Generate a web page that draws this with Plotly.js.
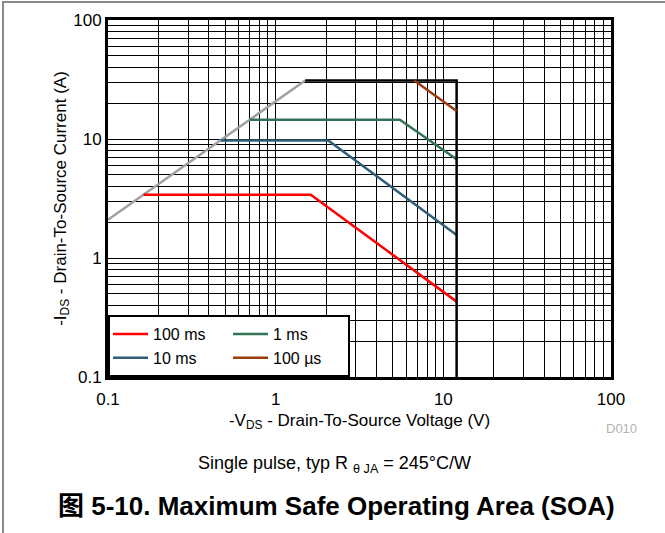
<!DOCTYPE html>
<html>
<head>
<meta charset="utf-8">
<script src="https://cdn.plot.ly/plotly-3.0.1.min.js"></script>
<style>
  html, body { margin: 0; padding: 0; background: #fff; }
  #wrap { position: relative; width: 665px; height: 533px; }
  #chart { position: absolute; left: 0; top: 0; width: 665px; height: 533px; }
  #frame { position: absolute; left: 2px; top: 1px; right: 0; bottom: 0;
           border-left: 2px solid #8a8a8a; border-top: 2px solid #8a8a8a; pointer-events: none; }
</style>
</head>
<body>
<div id="wrap"><div id="chart"></div><div id="frame"></div></div>
<script>
// ---- data ----
const seriesNames = ['100 ms', '10 ms', '1 ms', '100 µs'];
const seriesColors = ['#ff0000', '#2f5f78', '#327356', '#9c3b0d'];

const v100ms = [0.163, 1.62, 12];
const i100ms = [3.4, 3.4, 0.43];

const v10ms = [0.47, 2.06, 12];
const i10ms = [9.7, 9.7, 1.56];

const v1ms = [0.70, 5.5, 12];
const i1ms = [14.5, 14.5, 6.75];

const v100us = [6.7, 12];
const i100us = [31, 17.2];

// RDS(on) limit (grey) and package/voltage limit (black)
const vRds = [0.1, 1.5];
const iRds = [2.1, 31];
const vLimit = [1.5, 12, 12];
const iLimit = [31, 31, 0.1];

// axis ticks
const decades = [0.1, 1, 10, 100];
const decadeLabels = ['0.1', '1', '10', '100'];
const minorMultipliers = [1, 2, 3, 4, 5, 6, 7, 8, 9];

// ---- build tick arrays (gridlines at every 1..9 multiple) ----
function buildTicks() {
  const vals = [], text = [];
  decades.forEach((d, k) => {
    if (k === decades.length - 1) { vals.push(d); text.push(decadeLabels[k]); return; }
    minorMultipliers.forEach(m => {
      vals.push(+(d * m).toPrecision(3));
      text.push(m === 1 ? decadeLabels[k] : '');
    });
  });
  return { vals, text };
}
const ticks = buildTicks();

const FONT = 'Liberation Sans, Arial, Helvetica, "Noto Sans CJK SC", sans-serif';

function line(x, y, color, name, group, show) {
  return {
    type: 'scatter', mode: 'lines', x: x, y: y, name: name,
    legendgroup: group, showlegend: show,
    line: { color: color, width: 2.5 }, hoverinfo: 'skip'
  };
}

const traces = [
  line(vRds, iRds, '#a0a0a0', 'RDS', 'z', false),
  line(v100ms, i100ms, seriesColors[0], seriesNames[0], 'a', true),
  line(v10ms, i10ms, seriesColors[1], seriesNames[1], 'a', true),
  line(v1ms, i1ms, seriesColors[2], seriesNames[2], 'b', true),
  line(vLimit, iLimit, '#000000', 'limit', 'z', false),
  line(v100us, i100us, seriesColors[3], seriesNames[3], 'b', true)
];

const axisCommon = {
  type: 'log',
  tickmode: 'array',
  tickvals: ticks.vals,
  ticktext: ticks.text,
  showgrid: true, gridcolor: '#000000', gridwidth: 1,
  showline: true, linecolor: '#000000', linewidth: 3, mirror: true,
  ticks: '', zeroline: false,
  tickfont: { family: FONT, size: 17, color: '#000' },
  automargin: false
};

const layout = {
  width: 665, height: 533,
  margin: { l: 108, r: 54, t: 20, b: 156 },
  paper_bgcolor: '#fff', plot_bgcolor: '#fff',
  font: { family: FONT, color: '#000' },
  showlegend: true,
  xaxis: Object.assign({}, axisCommon, {
    range: [-1, 2],
    ticklabelstandoff: 5,
    title: { text: '-V<sub>DS</sub> - Drain-To-Source Voltage (V)', font: { family: FONT, size: 17 }, standoff: 6 }
  }),
  yaxis: Object.assign({}, axisCommon, {
    range: [-1, 2],
    title: { text: '-I<sub>DS</sub> - Drain-To-Source Current (A)', font: { family: FONT, size: 17 }, standoff: 3 }
  }),
  legend: {
    orientation: 'h', traceorder: 'grouped',
    x: 0, y: 0, xanchor: 'left', yanchor: 'bottom',
    bgcolor: '#fff', bordercolor: '#000', borderwidth: 2,
    entrywidth: 70, entrywidthmode: 'pixels', itemwidth: 35,
    font: { family: FONT, size: 16, color: '#000' }
  },
  annotations: [
    { text: 'D010', xref: 'paper', yref: 'paper', x: 1.055, y: -0.145,
      xanchor: 'right', yanchor: 'middle', showarrow: false,
      font: { family: FONT, size: 13, color: '#b4b4b4' } },
    { text: 'Single pulse, typ R <sub>θ JA</sub> = 245°C/W', xref: 'paper', yref: 'paper',
      x: 0.451, y: -0.246, xanchor: 'center', yanchor: 'middle', showarrow: false,
      font: { family: FONT, size: 18, color: '#000' } },
    { text: '<b>图 5-10. Maximum Safe Operating Area (SOA)</b>', xref: 'paper', yref: 'paper',
      x: 0.455, y: -0.36, xanchor: 'center', yanchor: 'middle', showarrow: false,
      font: { family: FONT, size: 26, color: '#000' } }
  ]
};

Plotly.newPlot('chart', traces, layout, { displayModeBar: false, staticPlot: true });
</script>
</body>
</html>
